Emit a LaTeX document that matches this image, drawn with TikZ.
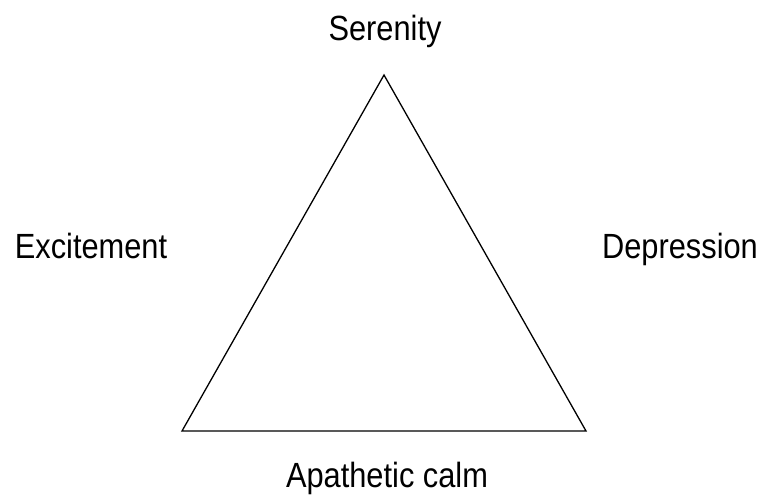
\documentclass[tikz,border=0pt]{standalone}
\usepackage{fontspec}
\setmainfont{Liberation Sans}[FakeStretch=0.88]
\begin{document}
\begin{tikzpicture}[x=1pt,y=-1pt,
  lbl/.style={anchor=base,inner sep=0pt,font=\fontsize{35}{40}\selectfont},
  edge/.style={draw=black,line width=1.3pt,line join=miter}]
\useasboundingbox (0,0) rectangle (763,501);
\coordinate (top) at (384,75);
\coordinate (bl) at (182,431);
\coordinate (br) at (586,431);
\draw[edge] (top) -- (bl) -- (br) -- cycle;
\node[lbl] (serenity) at (385,40) {Serenity};
\node[lbl] (excitement) at (91,258) {Excitement};
\node[lbl] (depression) at (680,258) {Depression};
\node[lbl] (calm) at (387,487) {Apathetic calm};
\end{tikzpicture}
\end{document}
